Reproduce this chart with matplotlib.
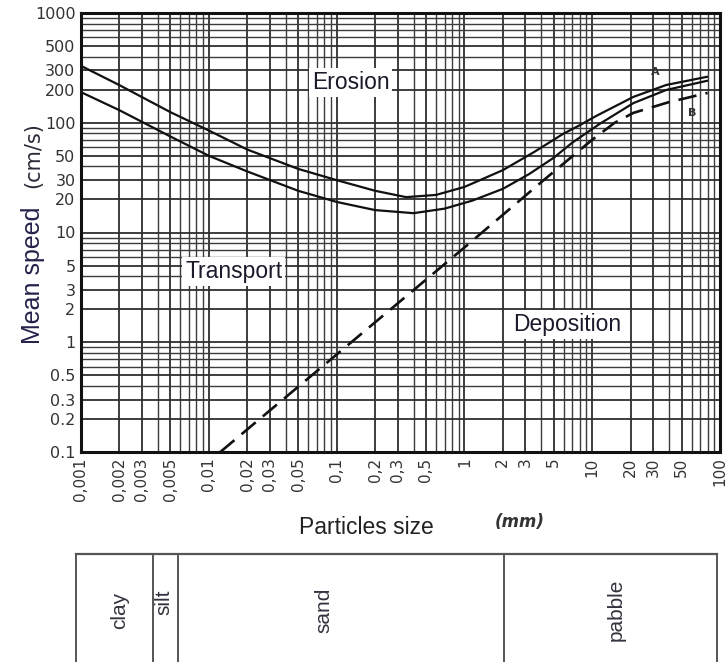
import numpy as np
import matplotlib.pyplot as plt
from matplotlib.ticker import FixedLocator, NullFormatter

# Hjulstrom diagram, values (mm, cm/s)
upper_size = [0.001, 0.002, 0.005, 0.01, 0.02, 0.05, 0.1, 0.2, 0.35, 0.6, 1, 2, 3.5, 5.9, 8, 10.7, 21, 38, 79]
upper_speed = [330, 220, 125, 85, 57, 38, 30, 24, 21, 22, 26, 37, 54, 79, 95, 115, 172, 221, 262]

lower_size = [0.001, 0.002, 0.005, 0.01, 0.02, 0.05, 0.1, 0.2, 0.4, 0.7, 1.15, 2, 3.2, 5, 7, 11.5, 21, 38, 79]
lower_speed = [190, 130, 75, 50, 36, 24, 19, 16, 15, 16.5, 19.5, 25, 34, 48, 66, 98, 151, 199, 241]

dep_size = [0.0123, 1, 4.1, 10, 15, 21, 39, 80]
dep_speed = [0.1, 7.3, 29.5, 70, 100, 123, 153, 187]

x_ticks = [0.001, 0.002, 0.003, 0.005, 0.01, 0.02, 0.03, 0.05, 0.1, 0.2, 0.3, 0.5,
           1, 2, 3, 5, 10, 20, 30, 50, 100]
x_ticklabels = ['0,001', '0,002', '0,003', '0,005', '0,01', '0,02', '0,03', '0,05', '0,1',
                '0,2', '0,3', '0,5', '1', '2', '3', '5', '10', '20', '30', '50', '100']
y_ticks = [1000, 500, 300, 200, 100, 50, 30, 20, 10, 5, 3, 2, 1, 0.5, 0.3, 0.2, 0.1]
y_ticklabels = ['1000', '500', '300', '200', '100', '50', '30', '20', '10', '5', '3', '2',
                '1', '0.5', '0.3', '0.2', '0.1']

# grain classes under the chart: boundaries (mm, on the same log scale) and label spots
class_edges = [0.000914, 0.00366, 0.00574, 2.04, 95]
class_names = ['clay', 'silt', 'sand', 'pabble']
class_label_x = [0.00202, 0.00447, 0.0796, 15.4]

W, H = 728, 662
fig = plt.figure(figsize=(W / 100, H / 100), dpi=100)
fig.patch.set_facecolor('white')

L, R, T, B = 81, 720, 13, 452
ax = fig.add_axes([L / W, 1 - B / H, (R - L) / W, (B - T) / H])
ax.set_xscale('log')
ax.set_yscale('log')
ax.set_xlim(0.001, 100)
ax.set_ylim(0.1, 1000)

ax.grid(which='major', color='#2e2e2e', linewidth=1.3)
ax.grid(which='minor', color='#3c3c3c', linewidth=1.0)
ax.set_axisbelow(True)

ax.xaxis.set_major_locator(FixedLocator(x_ticks))
ax.set_xticklabels(x_ticklabels, rotation=90, fontsize=11, color='#333333')
ax.xaxis.set_minor_locator(FixedLocator([m * 10.0 ** e for e in range(-3, 2) for m in range(2, 10)]))
ax.xaxis.set_minor_formatter(NullFormatter())
ax.yaxis.set_major_locator(FixedLocator(y_ticks))
ax.set_yticklabels(y_ticklabels, fontsize=11.5, color='#333333')
ax.yaxis.set_minor_locator(FixedLocator([m * 10.0 ** e for e in range(-1, 3) for m in range(2, 10)]))
ax.yaxis.set_minor_formatter(NullFormatter())
ax.tick_params(which='both', length=0, pad=4)
for s in ax.spines.values():
    s.set_linewidth(2.2)
    s.set_color('#111111')

ax.plot(upper_size, upper_speed, color='#111111', lw=1.6)
ax.plot(lower_size, lower_speed, color='#111111', lw=1.6)
ax.plot(dep_size, dep_speed, color='#111111', lw=1.9, linestyle=(0, (7, 3.5)))

ax.text(31, 290, 'A', fontsize=8, fontweight='bold', color='#333333', ha='center', va='center')
ax.text(61, 123, 'B', fontsize=8, fontweight='bold', color='#333333', ha='center', va='center')

box = dict(facecolor='white', edgecolor='none', pad=2)
ax.text(0.361, 0.842, 'Erosion', transform=ax.transAxes, family='Liberation Sans',
        fontsize=16.5, color='#1a1a2a', va='center', bbox=box)
ax.text(0.163, 0.411, 'Transport', transform=ax.transAxes, family='Liberation Sans',
        fontsize=16.5, color='#1a1a2a', va='center', bbox=box)
ax.text(0.676, 0.290, 'Deposition', transform=ax.transAxes, family='Liberation Sans',
        fontsize=16.5, color='#1a1a2a', va='center', bbox=box)

# axis titles
fig.text(33 / W, 1 - 275 / H, 'Mean speed', rotation=90, family='Liberation Sans',
         fontsize=18, color='#22224a', ha='center', va='center')
fig.text(33 / W, 1 - 155 / H, '(cm/s)', rotation=90, fontsize=15,
         color='#2a2a3a', ha='center', va='center')
fig.text(366 / W, 1 - 527 / H, 'Particles size', family='Liberation Sans',
         fontsize=16.5, color='#222222', ha='center', va='center')
fig.text(520 / W, 1 - 522 / H, '(mm)', fontsize=12, fontstyle='italic', fontweight='bold',
         color='#333333', ha='center', va='center')

# grain class table
tb = fig.add_axes([L / W, 0, (R - L) / W, (H - 554) / H])
tb.set_xscale('log')
tb.set_xlim(0.001, 100)
tb.set_ylim(0, 1)
tb.axis('off')
tb.plot([class_edges[0], class_edges[-1]], [1, 1], color='#555555', lw=1.6, clip_on=False)
for e in class_edges:
    tb.plot([e, e], [0, 1], color='#555555', lw=1.4, clip_on=False)
for name, xl in zip(class_names, class_label_x):
    yy = 0.55 if name == 'silt' else 0.48
    tb.text(xl, yy, name, rotation=90, family='Liberation Sans', fontsize=15,
            color='#333340', ha='center', va='center')

fig.savefig('out.png', dpi=100, facecolor='white')
